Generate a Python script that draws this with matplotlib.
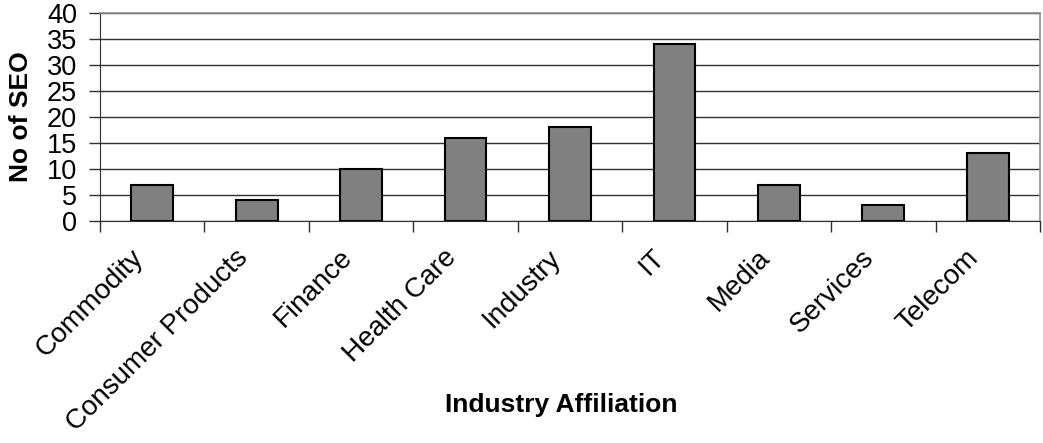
import numpy as np
import matplotlib.pyplot as plt
import matplotlib.transforms as mtransforms
from matplotlib.ticker import MultipleLocator, FixedLocator

plt.rcParams['font.family'] = ['Liberation Sans', 'DejaVu Sans']

industries = ['Commodity', 'Consumer Products', 'Finance', 'Health Care', 'Industry',
              'IT', 'Media', 'Services', 'Telecom']
seo_counts = [7, 4, 10, 16, 18, 34, 7, 3, 13]

fig = plt.figure(figsize=(10.43, 4.43), dpi=100)
ax = fig.add_axes([100 / 1043, 1 - 221 / 443, 940 / 1043, 208 / 443])

x = np.arange(len(industries))
ax.bar(x, seo_counts, width=0.4, color='#808080', edgecolor='black', linewidth=1.5, zorder=3)

ax.set_xlim(-0.5, len(industries) - 0.5)
ax.set_ylim(0, 40)
ax.yaxis.set_major_locator(MultipleLocator(5))
ax.grid(axis='y', color='#303030', linewidth=1.0, zorder=0)

# category labels at bar centres, tick marks between categories
ax.set_xticks(x)
ax.set_xticklabels(industries, rotation=45, ha='right', rotation_mode='anchor', fontsize=20)
ax.xaxis.set_minor_locator(FixedLocator(np.arange(len(industries) + 1) - 0.5))
ax.tick_params(axis='x', which='major', length=0, pad=17)
ax.tick_params(axis='x', which='minor', length=8, width=1, color='#303030', direction='out')
ax.tick_params(axis='y', length=8, width=1, color='#303030', direction='out', labelsize=19.5, pad=8.5)

# nudge the slanted labels so they end just left of each bar centre
shift = mtransforms.ScaledTranslation(-16 / 72, 0, fig.dpi_scale_trans)
for lbl in ax.get_xticklabels():
    lbl.set_transform(lbl.get_transform() + shift)

for side in ['top', 'right']:
    ax.spines[side].set_color('#909090')
    ax.spines[side].set_linewidth(1.2)
ax.spines['left'].set_color('#303030')
ax.spines['bottom'].set_color('#303030')

ax.set_ylabel('No of SEO', fontsize=19, fontweight='bold', labelpad=10)
fig.text(561 / 1043, 1 - 405 / 443, 'Industry Affiliation', fontsize=19, fontweight='bold',
         ha='center', va='center')

fig.savefig('out.png', dpi=100)
